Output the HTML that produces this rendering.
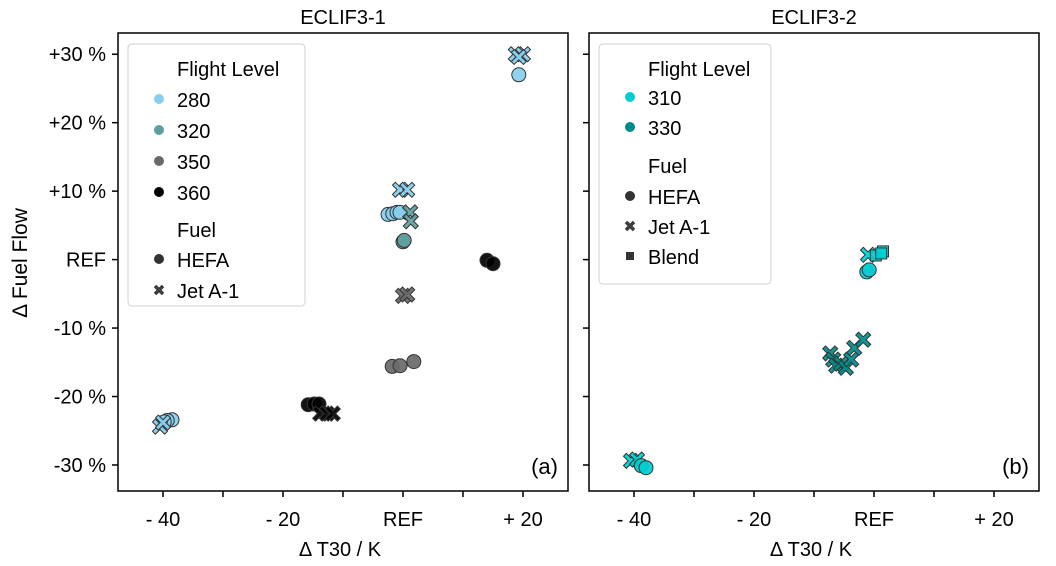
<!DOCTYPE html>
<html><head><meta charset="utf-8">
<style>
body{margin:0;background:#fff;}
svg{display:block;font-family:"Liberation Sans",Arial,sans-serif;}
</style></head>
<body>
<svg id="chart" width="1056" height="566" xmlns="http://www.w3.org/2000/svg"></svg>
<script>
// ---- data (ΔT30 in K, ΔFuel flow in %) ----
const yTicks = [30, 20, 10, 0, -10, -20, -30];
const yTickLabels = ["+30 %", "+20 %", "+10 %", "REF", "-10 %", "-20 %", "-30 %"];
const xTicks = [-40, -20, 0, 20];
const xTickLabels = ["- 40", "- 20", "REF", "+ 20"];
const xMinorTicks = [-30, -10, 10];

// Panel 1 (ECLIF3-1)
const fl280HefaX = [19.3, -2.5, -1.7, -1.0, -0.5, -38.5, -39.3, -39.8];
const fl280HefaY = [27.0, 6.6, 6.7, 6.9, 6.9, -23.4, -23.5, -23.7];
const fl280JetX = [18.8, 20.0, 19.3, -0.5, 0.7, -40.5, -40.0];
const fl280JetY = [30.0, 30.0, 29.6, 10.2, 10.2, -24.4, -23.8];
const fl320HefaX = [0.0, 0.2];
const fl320HefaY = [2.6, 2.8];
const fl320JetX = [1.2, 1.3];
const fl320JetY = [6.9, 5.6];
const fl350HefaX = [-1.8, -0.5, 1.8];
const fl350HefaY = [-15.6, -15.5, -14.9];
const fl350JetX = [0.0, 0.7];
const fl350JetY = [-5.3, -5.1];
const fl360HefaX = [14.0, 15.0, -15.8, -14.8, -14.0];
const fl360HefaY = [-0.1, -0.6, -21.2, -21.1, -21.1];
const fl360JetX = [-13.8, -12.7, -11.7];
const fl360JetY = [-22.5, -22.5, -22.5];

// Panel 2 (ECLIF3-2)
const fl310HefaX = [-1.2, -0.8, -38.8, -38.0];
const fl310HefaY = [-1.8, -1.5, -30.1, -30.4];
const fl310JetX = [-1.0, -40.5, -39.5];
const fl310JetY = [0.7, -29.4, -29.2];
const fl310BlendX = [0.3, 1.5, 1.2];
const fl310BlendY = [0.6, 1.2, 0.9];
const fl330JetX = [-7.3, -6.8, -6.3, -5.5, -4.7, -3.8, -3.3, -1.8];
const fl330JetY = [-13.7, -14.6, -15.5, -15.2, -15.8, -14.6, -12.9, -11.7];

const NS = "http://www.w3.org/2000/svg";
const svg = document.getElementById("chart");
function mk(tag, attrs, parent){
  const e = document.createElementNS(NS, tag);
  for (const k in attrs) e.setAttribute(k, attrs[k]);
  (parent||svg).appendChild(e);
  return e;
}
const xMin = -47.5, xMax = 27.5, yMin = -33.8, yMax = 33.1;
const panels = [{x0:118, x1:568, title:"ECLIF3-1", tag:"(a)", name:"panel-eclif3-1"},
                {x0:589, x1:1039, title:"ECLIF3-2", tag:"(b)", name:"panel-eclif3-2"}];
const yTop = 33, yBot = 491;
function yScale(v){ return yBot - (v - yMin) / (yMax - yMin) * (yBot - yTop); }
function xScaleFor(p){ return v => p.x0 + (v - xMin) / (xMax - xMin) * (p.x1 - p.x0); }

function circle(g, cx, cy, r, fill, stroke){
  const c = mk("circle", {cx:cx, cy:cy, r:r, fill:fill, stroke:stroke, "stroke-width":1, "fill-opacity":0.92}, g);
  
  
  return c;
}
function cross(g, cx, cy, s, fill, stroke){
  const a = s*0.38, b = s;
  const pts = [[-b,-b+a],[-b+a,-b],[0,-a],[b-a,-b],[b,-b+a],[a,0],[b,b-a],[b-a,b],[0,a],[-b+a,b],[-b,b-a],[-a,0]]
    .map(p => (cx+p[0])+","+(cy+p[1])).join(" ");
  const c = mk("polygon", {points:pts, fill:fill, stroke:stroke, "stroke-width":1, "fill-opacity":0.92}, g);
  
  
  return c;
}
function square(g, cx, cy, s, fill, stroke){
  const c = mk("rect", {x:cx-s, y:cy-s, width:2*s, height:2*s, fill:fill, stroke:stroke, "stroke-width":1, "fill-opacity":0.92}, g);
  
  
  return c;
}
function plotSeries(g, xs, xv, yv, shape, fill, name){
  const sg = mk("g", {}, g);
  
  
  for (let i = 0; i < xv.length; i++){
    const cx = xs(xv[i]), cy = yScale(yv[i]);
    if (shape === "o") circle(sg, cx, cy, 7, fill, "#333");
    else if (shape === "x") cross(sg, cx, cy, 7.5, fill, "#333");
    else square(sg, cx, cy, 5.5, fill, "#333");
  }
}

panels.forEach((p, pi) => {
  const g = mk("g", {});
  
  
  const xs = xScaleFor(p);
  const t = mk("text", {x:(p.x0+p.x1)/2, y:24, "text-anchor":"middle", "font-size":20, fill:"#000"}, g);
  t.textContent = p.title;
  
  
  yTicks.forEach((v, i) => {
    const y = yScale(v);
    mk("line", {x1:p.x0-6, x2:p.x0, y1:y, y2:y, stroke:"#000", "stroke-width":1.5}, g);
    if (pi === 0){
      const tl = mk("text", {x:p.x0-12, y:y+7, "text-anchor":"end", "font-size":20, fill:"#000"}, g);
      tl.textContent = yTickLabels[i];
      
      
    }
  });
  xTicks.forEach((v, i) => {
    const x = xs(v);
    mk("line", {x1:x, x2:x, y1:yBot, y2:yBot+6, stroke:"#000", "stroke-width":1.5}, g);
    const tl = mk("text", {x:x, y:yBot+35, "text-anchor":"middle", "font-size":20, fill:"#000"}, g);
    tl.textContent = xTickLabels[i];
    
    
  });
  xMinorTicks.forEach(v => {
    const x = xs(v);
    mk("line", {x1:x, x2:x, y1:yBot, y2:yBot+6, stroke:"#000", "stroke-width":1.5}, g);
  });
  const xl = mk("text", {x:(p.x0+p.x1)/2 - 3, y:556, "text-anchor":"middle", "font-size":20, fill:"#000"}, g);
  xl.textContent = "Δ T30 / K";
  
  
  const tg = mk("text", {x:p.x1-10, y:474, "text-anchor":"end", "font-size":22, fill:"#000"}, g);
  tg.textContent = p.tag;
  
  

  if (pi === 0){
    plotSeries(g, xs, fl280HefaX, fl280HefaY, "o", "#87ceeb", "series-fl280-hefa");
    plotSeries(g, xs, fl280JetX, fl280JetY, "x", "#87ceeb", "series-fl280-jeta1");
    plotSeries(g, xs, fl320HefaX, fl320HefaY, "o", "#5f9ea0", "series-fl320-hefa");
    plotSeries(g, xs, fl320JetX, fl320JetY, "x", "#5f9ea0", "series-fl320-jeta1");
    plotSeries(g, xs, fl350HefaX, fl350HefaY, "o", "#696969", "series-fl350-hefa");
    plotSeries(g, xs, fl350JetX, fl350JetY, "x", "#696969", "series-fl350-jeta1");
    plotSeries(g, xs, fl360HefaX, fl360HefaY, "o", "#000000", "series-fl360-hefa");
    plotSeries(g, xs, fl360JetX, fl360JetY, "x", "#000000", "series-fl360-jeta1");
  } else {
    plotSeries(g, xs, fl330JetX, fl330JetY, "x", "#008b8b", "series-fl330-jeta1");
    plotSeries(g, xs, fl310JetX, fl310JetY, "x", "#00ced1", "series-fl310-jeta1");
    plotSeries(g, xs, fl310BlendX, fl310BlendY, "s", "#00ced1", "series-fl310-blend");
    plotSeries(g, xs, fl310HefaX, fl310HefaY, "o", "#00ced1", "series-fl310-hefa");
  }

  const fr = mk("rect", {x:p.x0, y:yTop, width:p.x1-p.x0, height:yBot-yTop, fill:"none", stroke:"#000", "stroke-width":1.5}, g);
  
  

  const lg = mk("g", {}, g);
  
  
  const lx = p.x0 + 10;
  let items, h;
  if (pi === 0){
    h = 262;
    items = [["h","Flight Level",69],["o","280",100,"#87ceeb"],["o","320",131,"#5f9ea0"],["o","350",162,"#696969"],["o","360",193,"#000"],
             ["h","Fuel",230],["o","HEFA",260,"#333"],["x","Jet A-1",291,"#333"]];
  } else {
    h = 240;
    items = [["h","Flight Level",69],["o","310",98,"#00ced1"],["o","330",128,"#008b8b"],
             ["h","Fuel",166],["o","HEFA",197,"#333"],["x","Jet A-1",227,"#333"],["s","Blend",257,"#333"]];
  }
  mk("rect", {x:lx, y:44, width:pi===0?177:172, height:h, rx:4, fill:"#fff", "fill-opacity":0.85, stroke:"#d0d0d0", "stroke-width":1}, lg);
  items.forEach(it => {
    const ty = it[2];
    if (it[0] === "o") mk("circle", {cx:lx+31, cy:ty-1, r:5, fill:it[3]}, lg);
    else if (it[0] === "x") cross(lg, lx+31, ty-1, 4.5, it[3], it[3]);
    else if (it[0] === "s") mk("rect", {x:lx+27, y:ty-5, width:8, height:8, fill:it[3]}, lg);
    const te = mk("text", {x:lx+49, y:ty+7, "font-size":20, fill:"#000"}, lg);
    te.textContent = it[1];
    
    
  });
});

const yl = mk("text", {x:27, y:263, "text-anchor":"middle", "font-size":21, fill:"#000", transform:"rotate(-90 27 263)"});
yl.textContent = "Δ Fuel Flow";


</script>
</body></html>
